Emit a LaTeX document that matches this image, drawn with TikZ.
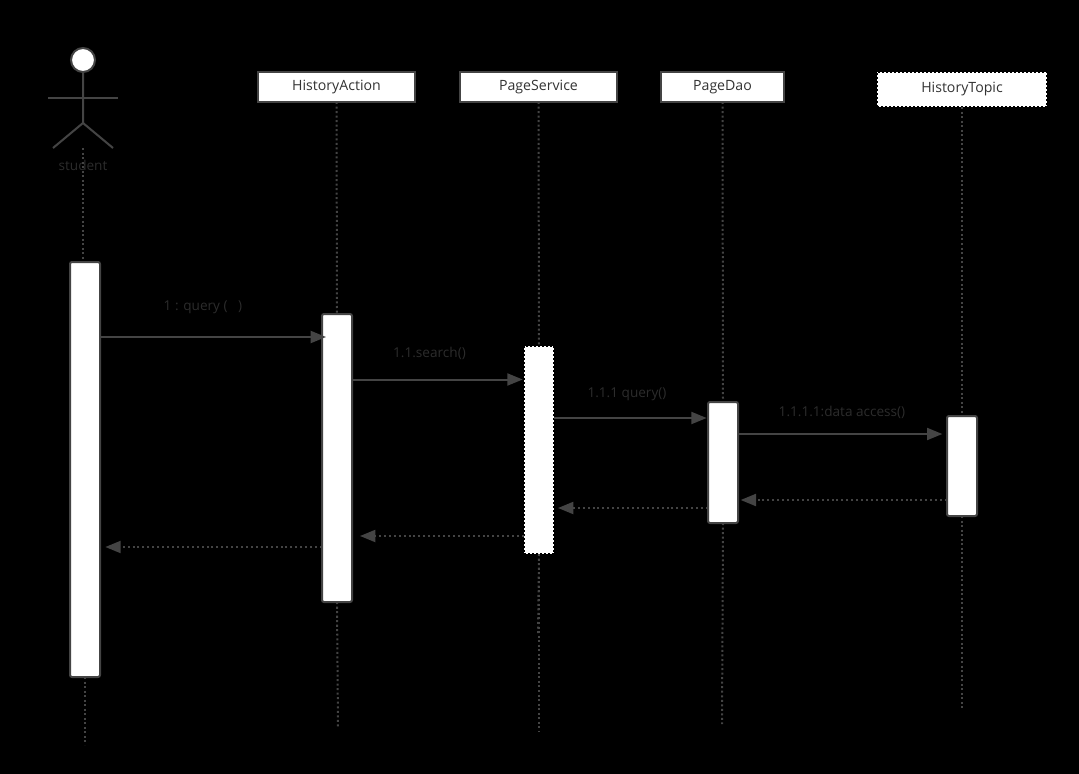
\documentclass[tikz,border=0pt]{standalone}
\usepackage{fontspec}
\setmainfont{Open Sans}
\usetikzlibrary{arrows.meta}
\definecolor{umlline}{HTML}{444444}
\definecolor{umltext}{HTML}{333333}
\definecolor{umllabel}{HTML}{2C2C2C}
\tikzstyle{lane}=[rectangle, draw=umlline, fill=white, line width=1.5pt, outer sep=0pt, inner sep=0pt, minimum height=22.5pt, text=umltext, font=\fontsize{10.6}{12}\selectfont]
\tikzstyle{lanedash}=[lane, draw=black, dash pattern=on 1.5pt off 1.5pt, line width=1pt]
\tikzstyle{activation}=[rectangle, draw=umlline, fill=white, line width=1.5pt, outer sep=0pt, inner sep=0pt, rounded corners=1.5pt, minimum width=22.5pt]
\tikzstyle{activationdash}=[activation, draw=black, dash pattern=on 1.5pt off 1.5pt, line width=1pt, rounded corners=0pt]
\tikzstyle{lifeline}=[draw=umlline, line width=1.5pt, dash pattern=on 1.5pt off 1.9pt]
\tikzstyle{call}=[draw=umlline, line width=1.5pt, -{Triangle[length=11.5pt,width=9pt]}]
\tikzstyle{reply}=[call, dash pattern=on 1.5pt off 2.2pt]
\tikzstyle{msg}=[text=umllabel, inner sep=0pt, font=\fontsize{10.2}{12}\selectfont]
\newcommand{\lane}{\node[lane]}
\newcommand{\activation}{\node[activation]}

\begin{document}
\begin{tikzpicture}[x=0.75pt, y=-0.75pt]
\fill[black] (0,0) rectangle (1079,774);
\useasboundingbox (0,0) rectangle (1079,774);

% actor
\node[circle, draw=umlline, fill=white, line width=1.5pt, inner sep=0pt, minimum size=18pt] (actorHead) at (83,60) {};
\coordinate (actorHip) at (83,123);
\coordinate (actorArmL) at (48,98);
\coordinate (actorArmR) at (118,98);
\coordinate (actorFootL) at (53,148);
\coordinate (actorFootR) at (113,148);
\draw[umlline, line width=1.5pt] (actorHead) -- (actorHip) -- (actorFootL) (actorHip) -- (actorFootR);
\draw[umlline, line width=1pt] (actorArmL) -- (actorArmR);
\node[msg] (studentLabel) at (83,165) {student};

% heads
\lane[minimum width=117.75pt] (headAction) at (336.5,87) {HistoryAction};
\lane[minimum width=117.75pt] (headService) at (538.5,87) {PageService};
\lane[minimum width=92.25pt] (headDao) at (722.5,87) {PageDao};
\node[lanedash, minimum width=127.5pt, minimum height=26.25pt] (headTopic) at (962,89.5) {HistoryTopic};

% activations
\activation[minimum height=311.25pt] (barStudent) at (85,469.5) {};
\activation[minimum height=216pt] (barAction) at (337,458) {};
\node[activationdash, minimum height=156pt] (barService) at (539,450) {};
\activation[minimum height=90.75pt] (barDao) at (723,462.5) {};
\activation[minimum height=75pt] (barTopic) at (962,466) {};

% lifelines
\coordinate (lifeStudent) at (83,148);
\coordinate (endStudent) at (85,745);
\coordinate (endAction) at (338,727);
\coordinate (endService) at (539,732);
\coordinate (endDao) at (722,724);
\coordinate (endTopic) at (962,710);
\coordinate (roughAction) at (337,635);
\coordinate (roughService) at (538,635);
\path[lifeline]
(lifeStudent) edge[lifeline] (lifeStudent |- barStudent.north)
(barStudent.south) edge[lifeline] (endStudent)
(headAction.south) edge[lifeline] (barAction.north)
(barAction.south) edge[lifeline] (endAction)
(barAction.south) edge[lifeline] (roughAction)
(headService.south) edge[lifeline] (barService.north)
(barService.south) edge[lifeline] (endService)
(barService.south) edge[lifeline] (roughService)
(headDao.south) edge[lifeline] (barDao.north)
(barDao.south) edge[lifeline] (endDao)
(headTopic.south) edge[lifeline] (barTopic.north)
(barTopic.south) edge[lifeline] (endTopic)
;

% calls
\draw[call, shorten >=-3pt] (barStudent.east |- 0,337) -- (barAction.west |- 0,337);
\draw[call, shorten >=1pt] (barAction.east |- 0,379.5) -- (barService.west |- 0,379.5);
\draw[call, shorten >=1pt] (barService.east |- 0,418) -- (barDao.west |- 0,418);
\draw[call, shorten >=3.5pt] (barDao.east |- 0,434) -- (barTopic.west |- 0,434);
\node[msg] (msgQuery) at (203,307) {1 : query (\ \ \ )};
\node[msg] (msgSearch) at (429.5,353) {1.1.search()};
\node[msg] (msgDaoQuery) at (627,394) {1.1.1 query()};
\node[msg] (msgAccess) at (842,412) {1.1.1.1:data access()};

% replies
\draw[reply, shorten >=2pt] (barTopic.west |- 0,500) -- (barDao.east |- 0,500);
\draw[reply, shorten >=3pt] (barDao.west |- 0,508) -- (barService.east |- 0,508);
\draw[reply, shorten >=6pt] (barService.west |- 0,536) -- (barAction.east |- 0,536);
\draw[reply, shorten >=4pt] (barAction.west |- 0,547) -- (barStudent.east |- 0,547);
\end{tikzpicture}
\end{document}
